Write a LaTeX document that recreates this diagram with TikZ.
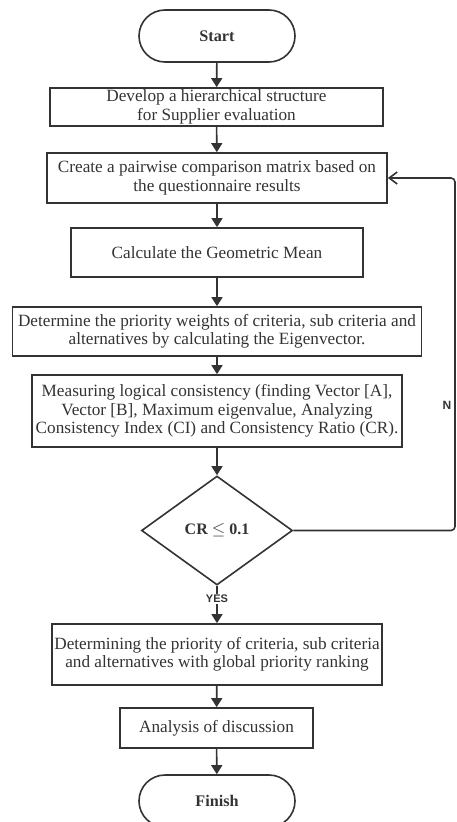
\documentclass[tikz,border=0pt]{standalone}
\usepackage{fontspec}
\setmainfont{Liberation Serif}
\setsansfont{Liberation Sans}
\usetikzlibrary{arrows.meta,shapes.geometric,positioning}

\definecolor{inkgray}{HTML}{333333}

\begin{document}
\begin{tikzpicture}[x=1pt,y=-1pt,
    every node/.style={text=inkgray,font=\fontsize{17.2}{18.5}\selectfont},
    process/.style={draw=inkgray,line width=1.7pt,rectangle,align=center,inner sep=0pt},
    terminal/.style={draw=inkgray,line width=1.6pt,rectangle,rounded corners=26pt,
        minimum width=156pt,minimum height=52pt,font=\bfseries\fontsize{16.2}{18}\selectfont},
    decision/.style={draw=inkgray,line width=1.6pt,diamond,inner sep=0pt,
        minimum width=151pt,minimum height=109pt,font=\bfseries\fontsize{16}{18}\selectfont},
    flowline/.style={draw=inkgray,line width=1.6pt,-{Triangle[length=9pt,width=11pt]}}]

    % Fix the page to the size of the reference
    \useasboundingbox (0,0) rectangle (457,822);

    % Define the steps of the flow
    \node (start) at (217,36) [terminal] {Start};
    \node (develop) at (216.5,107) [process,minimum width=333pt,minimum height=38pt]
        {Develop a hierarchical structure\\for Supplier evaluation};
    \node (pairwise) at (217,178) [process,minimum width=340pt,minimum height=50pt]
        {Create a pairwise comparison matrix based on\\the questionnaire results};
    \node (geomean) at (217,252.5) [process,minimum width=292pt,minimum height=49pt]
        {Calculate the Geometric Mean};
    \node (eigen) at (217,331.5) [process,minimum width=409pt,minimum height=49pt]
        {Determine the priority weights of criteria, sub criteria and\\alternatives by calculating the Eigenvector.};
    \node (consist) at (217,411) [process,minimum width=370pt,minimum height=72pt]
        {Measuring logical consistency (finding Vector [A],\\Vector [B], Maximum eigenvalue, Analyzing\\Consistency Index (CI) and Consistency Ratio (CR).};
    \node (check) at (217,530.5) [decision] {CR $\leq$ 0.1};
    \node (ranking) at (217,654.5) [process,minimum width=330pt,minimum height=61pt]
        {Determining the priority of criteria, sub criteria\\and alternatives with global priority ranking};
    \node (analysis) at (216.5,728) [process,minimum width=193pt,minimum height=40pt]
        {Analysis of discussion};
    \node (finish) at (217,801) [terminal] {Finish};

    % Corners of the loop back
    \coordinate (loopA) at (455,530.5);
    \coordinate (loopB) at (455,178);

    % Draw the arrows between the steps
    \draw[flowline] (start) -- (develop);
    \draw[flowline] (develop) -- (pairwise);
    \draw[flowline] (pairwise) -- (geomean);
    \draw[flowline] (geomean) -- (eigen);
    \draw[flowline] (eigen) -- (consist);
    \draw[flowline] (consist) -- (check);
    \draw[flowline] (check) -- node[pos=0.35,fill=white,inner sep=1pt,
        font=\sffamily\bfseries\fontsize{11}{12}\selectfont] {YES} (ranking);
    \draw[flowline] (ranking) -- (analysis);
    \draw[flowline] (analysis) -- (finish);
    \draw[flowline,-{Straight Barb[length=8pt,width=12pt]},rounded corners=4pt]
        (check.east) -- (loopA) -- (loopB) -- (pairwise.east);

    % Label of the loop back
    \node at (447,405) [font=\sffamily\bfseries\fontsize{12}{13}\selectfont] {N};

\end{tikzpicture}
\end{document}
